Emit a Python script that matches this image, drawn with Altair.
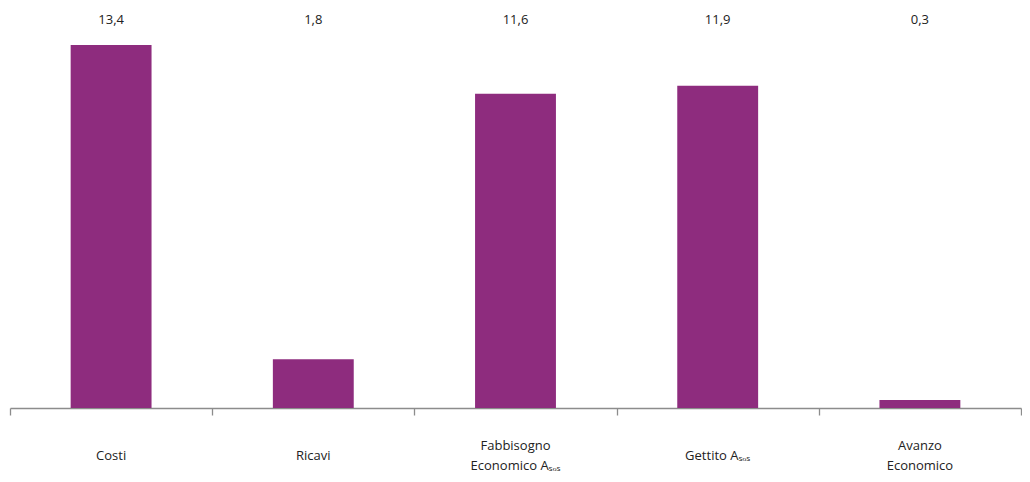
import altair as alt
import pandas as pd

categories = ["Costi", "Ricavi", "Fabbisogno Economico Asos", "Gettito Asos", "Avanzo Economico"]
label_top = ["", "", "Fabbisogno", "", "Avanzo"]
label_mid = ["Costi", "Ricavi", "", "Gettito Aₛₒₛ", ""]
label_bot = ["", "", "Economico Aₛₒₛ", "", "Economico"]
values = [13.4, 1.8, 11.6, 11.9, 0.3]
value_labels = ["13,4", "1,8", "11,6", "11,9", "0,3"]

df = pd.DataFrame({"cat": categories, "val": values, "lab": value_labels,
                   "l1": label_top, "l2": label_mid, "l3": label_bot})

FONT = "Open Sans"
PURPLE = "#8E2C7E"
GREY = "#8c8c8c"
TXT = "#222222"
H = 400

x = alt.X("cat:N", sort=categories, title=None,
          scale=alt.Scale(paddingInner=0, paddingOuter=0),
          axis=alt.Axis(labels=False, tickBand="extent", tickSize=7, tickColor=GREY,
                        tickWidth=1.3, domainColor=GREY, domainWidth=1.3))

bars = alt.Chart(df).mark_bar(color=PURPLE, width=alt.RelativeBandSize(0.4)).encode(
    x=x,
    y=alt.Y("val:Q", scale=alt.Scale(domain=[0, 14.77], nice=False), axis=None),
)

def text_row(field, ypos):
    return alt.Chart(df).mark_text(font=FONT, fontSize=13, color=TXT, baseline="middle").encode(
        x=alt.X("cat:N", sort=categories),
        y=alt.value(ypos),
        text=f"{field}:N",
    )

chart = alt.layer(
    bars,
    text_row("lab", 12),
    text_row("l1", H + 38),
    text_row("l2", H + 48),
    text_row("l3", H + 58),
).properties(
    width=1011, height=H,
    padding={"left": 1, "top": 0, "right": 0, "bottom": 0},
).configure_view(stroke=None)

chart.save("out.html", embed_options={"renderer": "svg", "actions": False})
